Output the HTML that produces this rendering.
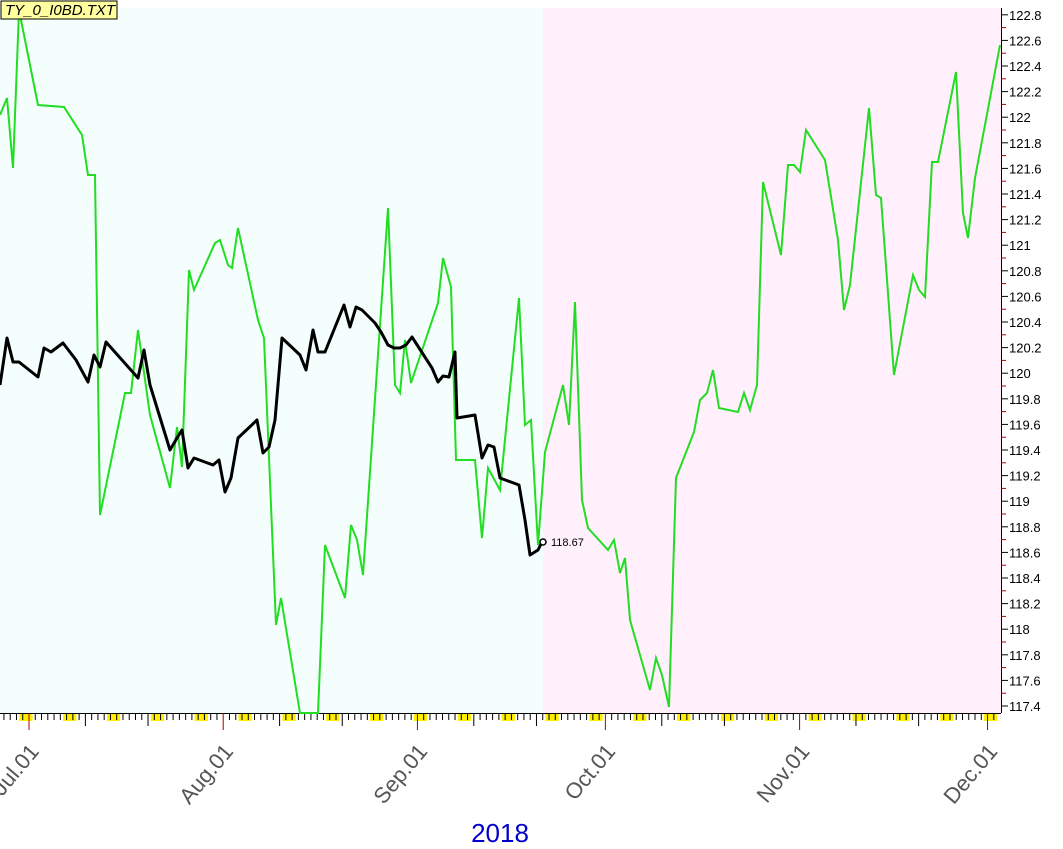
<!DOCTYPE html>
<html><head><meta charset="utf-8"><style>body{margin:0;background:#fff}svg{display:block}</style></head>
<body>
<svg id="s" width="1063" height="849" xmlns="http://www.w3.org/2000/svg" font-family="Liberation Sans, sans-serif">
<rect x="0" y="8" width="543" height="705" fill="#f4fffd"/>
<rect x="543" y="8" width="458" height="705" fill="#fff0fb"/>
<g id="ax"></g>
<polyline fill="none" stroke="#22dd22" stroke-width="2" points="0,115 7,98 13,168 19,10 38,105 64,107 82,135 88,175 95,175 100,515 125,393 131,393 138,330 150,415 170,488 177,427 182,467 189,270 194,290 215,243 220,240 228,265 232,268 238,228 258,320 264,338 276,625 281,598 300,713 318,713 325,545 345,598 351,525 357,540 363,575 388,208 395,385 400,393 405,340 411,383 438,303 443,258 451,287 456,460 475,460 482,538 488,468 500,490 519,298 525,425 531,420 538,545 545,452 563,385 569,425 575,302 582,500 588,528 608,550 614,540 620,573 625,558 630,620 650,690 656,658 662,675 669,707 676,478 694,432 700,400 707,393 713,370 719,408 738,412 744,393 750,410 757,385 763,182 781,255 788,165 794,165 800,172 806,130 825,160 838,240 844,310 850,285 869,108 876,195 881,198 894,375 913,275 919,290 925,297 932,162 938,162 956,72 963,213 968,238 975,178 1000,45"/>
<polyline fill="none" stroke="#000" stroke-width="3" stroke-linejoin="round" points="0,385 7,338 13,362 19,362 38,377 44,348 51,352 63,343 76,360 88,382 94,355 100,367 106,342 138,378 144,350 150,385 170,450 177,438 182,430 188,468 194,458 213,465 219,460 225,492 231,478 238,438 257,420 263,453 269,447 275,420 282,338 300,355 306,370 313,330 318,352 325,352 344,305 350,327 356,307 362,310 375,323 381,332 388,345 394,348 400,348 406,345 412,337 432,368 438,382 443,376 449,377 455,352 457,418 475,415 482,458 488,445 494,447 500,478 519,485 525,520 530,555 538,550 542,542"/>
<circle cx="543" cy="542" r="3" fill="#fff" stroke="#000" stroke-width="1.5"/>
<text x="551" y="546" font-size="11">118.67</text>
<rect x="1" y="1" width="116" height="18" fill="#ffffa0" stroke="#000"/>
<text x="5" y="15" font-size="15" font-style="italic">TY_0_I0BD.TXT</text>
<text x="500" y="842" font-size="26" fill="#0000cc" text-anchor="middle">2018</text>
</svg>
<script>
var g=document.getElementById('ax'),h='';
var d=6.265,x0=29;
for(var k=-5;k<=160;k++){var x=x0+k*d;if(x<0||x>1000)continue;
var dt=new Date(2018,6,1+k),wd=dt.getDay();
if(wd==0||wd==6)h+='<rect x="'+(x-3.5)+'" y="714" width="7" height="7" fill="#ffee00"/>';}
h+='<line x1="0" y1="713.5" x2="1001" y2="713.5" stroke="#000"/><line x1="1001.5" y1="8" x2="1001.5" y2="713" stroke="#000"/>';
for(var i=0;i<=27;i++){var v=117.4+i*0.2,y=706-i*25.6;
h+='<line x1="1001" y1="'+y+'" x2="1008" y2="'+y+'" stroke="#000"/>';
h+='<text x="1009" y="'+(y+5)+'" font-size="13">'+(Math.round(v*10)/10)+'</text>';
if(i<27)h+='<line x1="1001" y1="'+(y-12.8)+'" x2="1006" y2="'+(y-12.8)+'" stroke="#a00"/>';}
var names=['Jul.01','Aug.01','Sep.01','Oct.01','Nov.01','Dec.01'];
for(var k=-5;k<=160;k++){var x=x0+k*d;if(x<0||x>1000)continue;
var dt=new Date(2018,6,1+k),dd=dt.getDate();
var col='#000',len=7;if(dd==1){col='#a00';len=17}else if(dd==10||dd==20){len=13}
h+='<line x1="'+x+'" y1="713" x2="'+x+'" y2="'+(713+len)+'" stroke="'+col+'"/>';
if(dd==1){h+='<text transform="translate('+(x+11)+',752) rotate(-50)" text-anchor="end" font-size="22" fill="#555">'+names[dt.getMonth()-6]+'</text>';}}
g.innerHTML=h;
</script>
</body></html>
